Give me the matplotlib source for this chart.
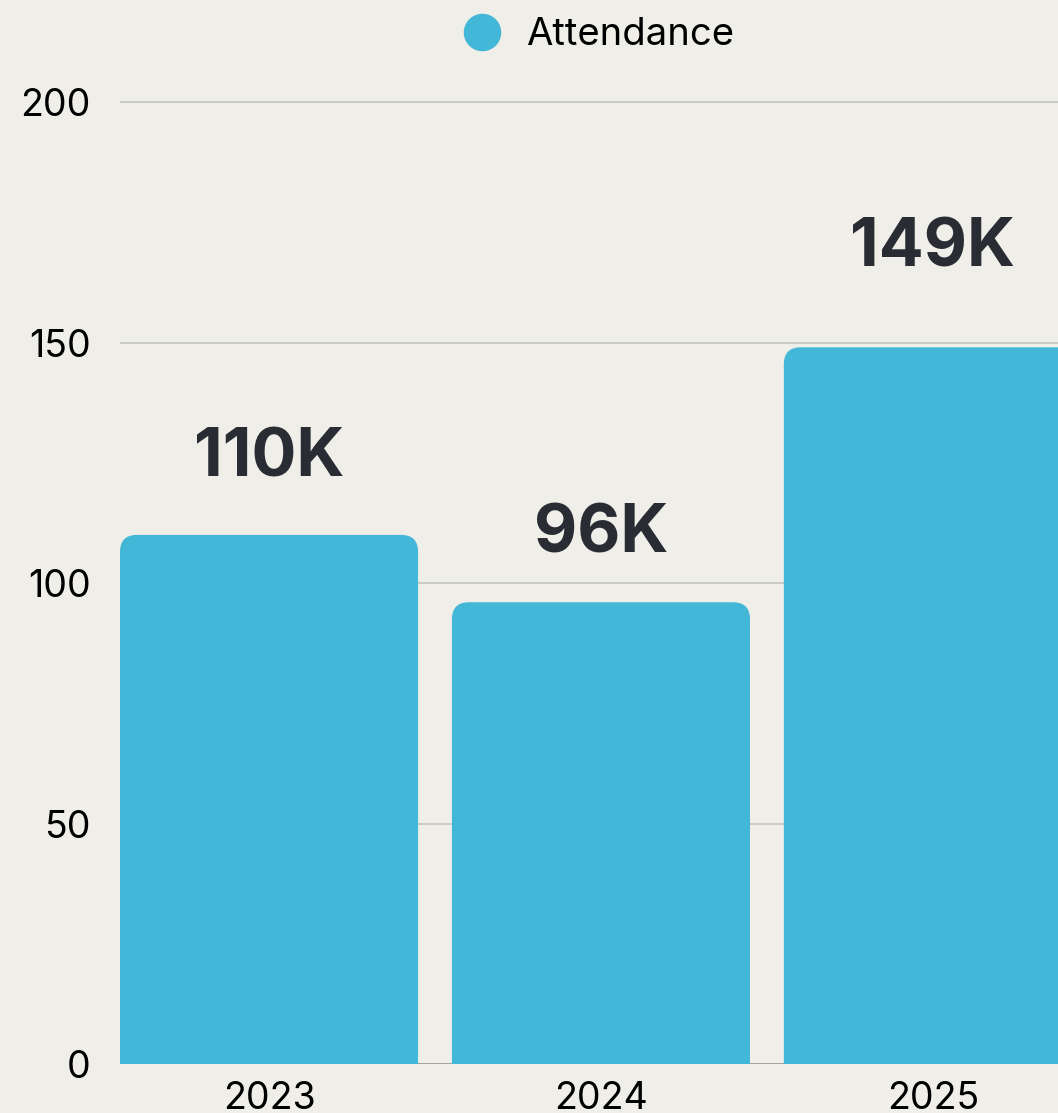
import matplotlib
matplotlib.use("Agg")
import matplotlib.pyplot as plt
from matplotlib.patches import FancyBboxPatch
from matplotlib.lines import Line2D

years = ["2023", "2024", "2025"]
attendance = [110, 96, 149]
labels = ["110K", "96K", "149K"]
yticks = [0, 50, 100, 150, 200]

BG = "#efeee8"
BAR = "#42b7d7"
TXT = "#2a2c33"

plt.rcParams['font.family'] = ['Inter', 'DejaVu Sans']

W, H = 1058, 1113
fig = plt.figure(figsize=(W / 100, H / 100), dpi=100, facecolor=BG)
ymax = 205
px_per_unit = (1064 - 102) / 200
top_px = 1064 - ymax * px_per_unit
ax = fig.add_axes([120 / W, (H - 1064) / H, (W - 120) / W, (1064 - top_px) / H])
ax.set_facecolor(BG)

ax.set_xlim(-0.449, 2.377)
ax.set_ylim(0, ymax)

width = 0.898
xpx_per_unit = 332
r_px = 17
rx = r_px / xpx_per_unit
ry = r_px / px_per_unit
for i, v in enumerate(attendance):
    p = FancyBboxPatch((i - width / 2, -20), width, v + 20,
                       boxstyle=f"round,pad=0,rounding_size={rx}",
                       mutation_aspect=ry / rx,
                       facecolor=BAR, edgecolor="none", zorder=3)
    ax.add_patch(p)
    ax.text(i, v * 1.12 + 2.5, labels[i], ha="center", va="center",
            fontsize=48, fontweight="bold", color=TXT, zorder=4)

for t in yticks[1:]:
    ax.axhline(t, color="#c4c4c2", lw=1.2, zorder=1)
ax.axhline(0, color="#9a9a98", lw=2, zorder=2)

ax.set_yticks(yticks)
ax.set_yticklabels([str(t) for t in yticks], fontsize=27, color="black")
ax.set_xticks(range(len(years)))
ax.set_xticklabels(years, fontsize=27, color="black")
ax.tick_params(axis="y", length=0, pad=21)
ax.tick_params(axis="x", length=0, pad=12)
for s in ax.spines.values():
    s.set_visible(False)

handle = Line2D([], [], marker="o", linestyle="none", markersize=27,
                markerfacecolor=BAR, markeredgecolor="none")
leg = ax.legend([handle], ["Attendance"], loc="center",
                bbox_to_anchor=(0.5, (H - 35 - (H - 1064)) / (1064 - top_px)),
                frameon=False, fontsize=27.5, handletextpad=0.15,
                borderaxespad=0)
for t in leg.get_texts():
    t.set_color("black")

fig.savefig("out.png", dpi=100, facecolor=BG)
